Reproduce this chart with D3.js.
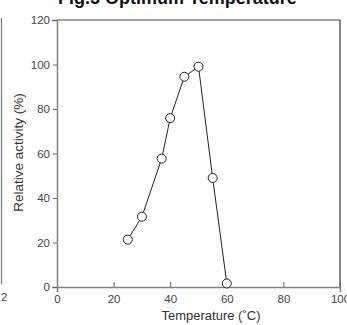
<!DOCTYPE html>
<html>
<head>
<meta charset="utf-8">
<script src="https://cdn.jsdelivr.net/npm/d3@7"></script>
<style>
  body { margin: 0; background: #fff; }
  text { font-family: "Liberation Sans", Arial, sans-serif; }
</style>
</head>
<body>
<div id="chart"></div>
<script>
// data
const temperature = [25, 30, 37, 40, 45, 50, 55, 60];
const activity = [21.3, 31.6, 57.7, 75.9, 94.5, 99, 49, 1.6];
const xTicks = [0, 20, 40, 60, 80, 100];
const yTicks = [0, 20, 40, 60, 80, 100, 120];

const width = 347, height = 325;
const margin = { top: 20, right: 7, bottom: 38, left: 57 };

const svg = d3.select("#chart").append("svg")
    .attr("width", width)
    .attr("height", height);

const x = d3.scaleLinear().domain([0, 100]).range([margin.left, width - margin.right]);
const y = d3.scaleLinear().domain([0, 120]).range([height - margin.bottom, margin.top]);

// leftover edge of the neighbouring figure
svg.append("line")
    .attr("x1", 1.5).attr("x2", 1.5)
    .attr("y1", 18).attr("y2", 284)
    .attr("stroke", "#777").attr("stroke-width", 1.2);
svg.append("text")
    .attr("x", 1).attr("y", 301)
    .attr("font-size", 11.5).attr("fill", "#444")
    .text("2");

// title (cut off at the top)
svg.append("text")
    .attr("x", 58).attr("y", 4)
    .attr("font-size", 18).attr("font-weight", "bold")
    .attr("fill", "#111")
    .text("Fig.5 Optimum Temperature");

// frame
svg.append("line")
    .attr("x1", x(0)).attr("x2", x(100))
    .attr("y1", y(120)).attr("y2", y(120))
    .attr("stroke", "#808080").attr("stroke-width", 1.5);
svg.append("line")
    .attr("x1", x(100)).attr("x2", x(100))
    .attr("y1", y(120)).attr("y2", y(0))
    .attr("stroke", "#333").attr("stroke-width", 1.2);

// axes
const xAxis = svg.append("g")
    .attr("transform", `translate(0,${y(0)})`)
    .call(d3.axisBottom(x).tickValues(xTicks).tickSize(5).tickPadding(3));
const yAxis = svg.append("g")
    .attr("transform", `translate(${x(0)},0)`)
    .call(d3.axisLeft(y).tickValues(yTicks).tickSize(5).tickPadding(2));

[xAxis, yAxis].forEach(g => {
    g.select(".domain").attr("stroke", "#808080").attr("stroke-width", 1.5);
    g.selectAll(".tick line").attr("stroke", "#666");
    g.selectAll(".tick text")
        .attr("font-family", "Liberation Sans, Arial, sans-serif")
        .attr("font-size", 11.5)
        .attr("fill", "#444");
});
xAxis.selectAll(".tick line").attr("y2", -5);
yAxis.selectAll(".tick line").attr("x2", -4);

// axis titles
svg.append("text")
    .attr("x", 211).attr("y", 320)
    .attr("text-anchor", "middle")
    .attr("font-size", 13).attr("fill", "#333")
    .text("Temperature (˚C)");
svg.append("text")
    .attr("transform", "translate(23,152.5) rotate(-90)")
    .attr("text-anchor", "middle")
    .attr("font-size", 13.5).attr("fill", "#333")
    .text("Relative activity (%)");

// series
const pts = temperature.map((t, i) => [t, activity[i]]);
svg.append("path")
    .datum(pts)
    .attr("fill", "none")
    .attr("stroke", "#222")
    .attr("stroke-width", 1)
    .attr("d", d3.line().x(d => x(d[0])).y(d => y(d[1])));

svg.selectAll("circle.pt")
    .data(pts)
    .join("circle")
    .attr("class", "pt")
    .attr("cx", d => x(d[0]))
    .attr("cy", d => y(d[1]))
    .attr("r", 4.5)
    .attr("fill", "#fff")
    .attr("stroke", "#222")
    .attr("stroke-width", 1);
</script>
</body>
</html>
